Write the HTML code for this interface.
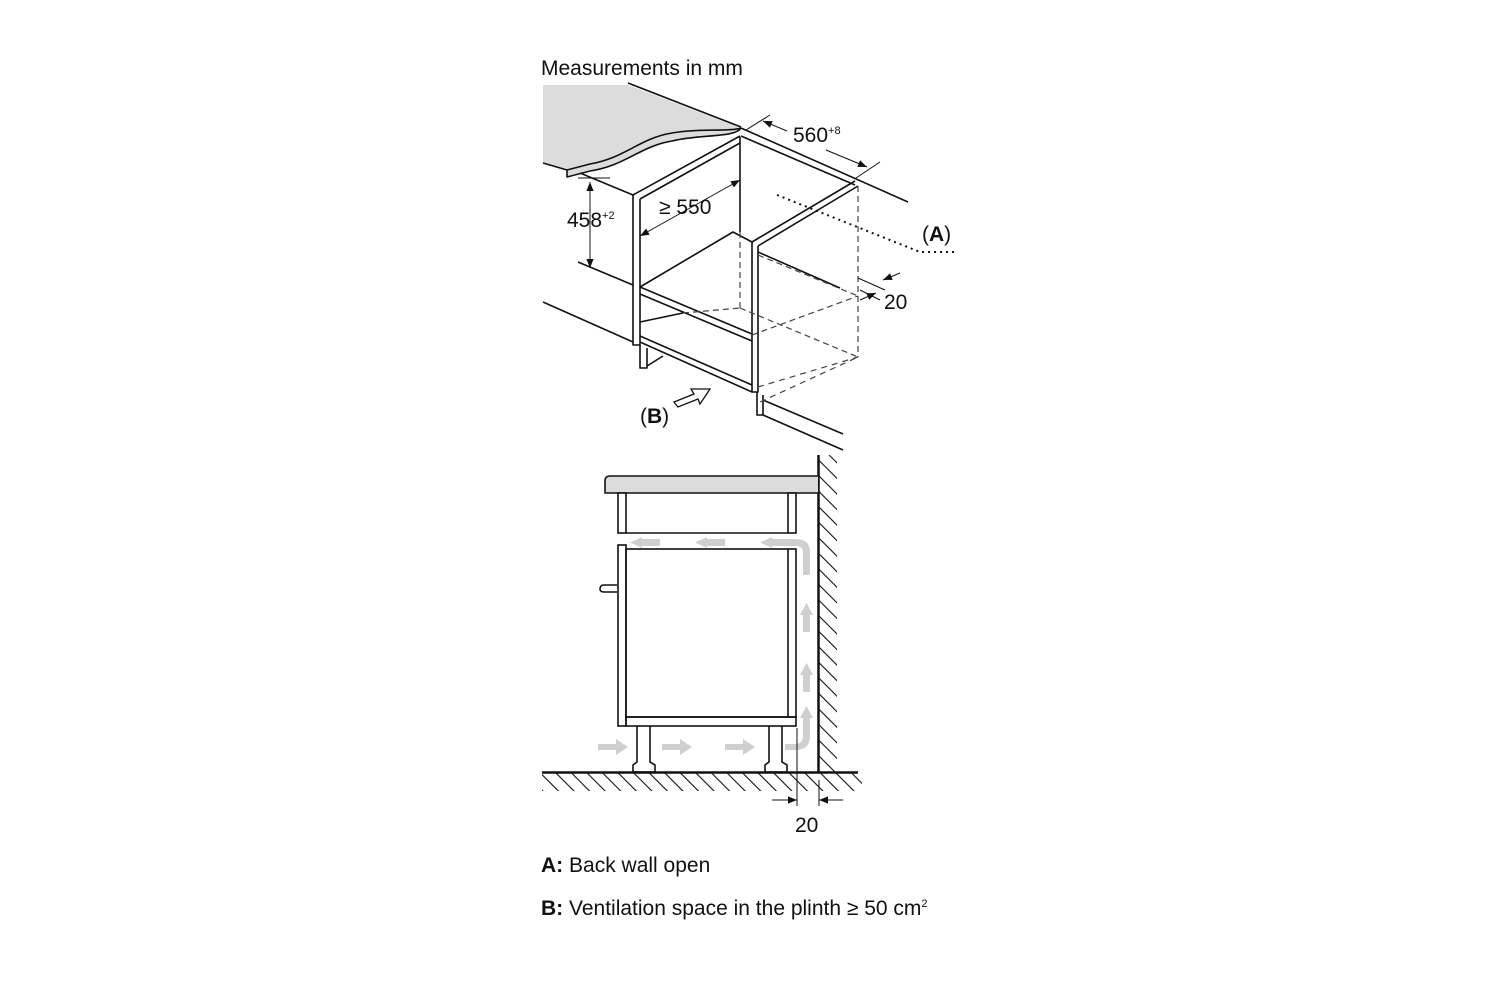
<!DOCTYPE html>
<html><head><meta charset="utf-8"><style>
html,body{margin:0;padding:0;background:#fff;width:1500px;height:1000px;overflow:hidden}
svg{display:block}
text{font-family:"Liberation Sans",Arial,sans-serif;fill:#111}
</style></head><body>
<svg width="1500" height="1000" viewBox="0 0 1500 1000" xmlns="http://www.w3.org/2000/svg">
<defs>
<marker id="ar" viewBox="0 0 10 10" refX="10" refY="5" markerWidth="11" markerHeight="9" orient="auto-start-reverse" markerUnits="userSpaceOnUse"><path d="M0,1 L10,5 L0,9 z" fill="#111"/></marker>
<pattern id="hw" width="11" height="11" patternUnits="userSpaceOnUse" patternTransform="rotate(-45)"><line x1="0" y1="0" x2="0" y2="11" stroke="#111" stroke-width="2.2"/></pattern>
</defs>
<text x="541" y="75" font-size="21">Measurements in mm</text>

<g fill="none" stroke="#111" stroke-width="1.6" stroke-linejoin="round">
<path d="M543,85 L628,85 L741,128 C735,136 700,134 670,142 C640,150 620,168 590,170 L567,176 L567,170 L543,163 Z" fill="#dcdcdc" stroke="none"/>
<path d="M543,163 L567,170 L567,177 L590,171 C625,166 640,146 672,141 C700,134 735,138 741,128"/>
<path d="M567,170 L590,164 C625,158 640,138 672,133 C700,128 730,132 741,128"/>
<path d="M628,83 L741,127"/>
<path d="M741,128 L908,202"/>
<path d="M741,136 L855,185"/>
<path d="M580,173 L633,195"/>
<path d="M633,195 L740,136 M640,199 L740,143"/>
<path d="M633,195 L633,345 L640,345 L640,199"/>
<path d="M740,137 L740,232"/>
<path d="M640,287 L733,232 L752,242"/>
<path d="M640,287 L752,334 M640,294 L752,341"/>
<path d="M752,242 L855,181 M758,246 L858,186"/>
<path d="M752,242 L752,392 L758,392 L758,246"/>
<path d="M758,252 L840,288"/>
<path d="M640,322 L683,313"/>
<path d="M640,336 L752,385 M640,342 L752,392"/>
<path d="M640,345 L640,368 L647,368 L647,348"/>
<path d="M647,366 L663,356"/>
<path d="M757,392 L757,415 L763,415 L763,395"/>
<path d="M543,302 L633,342"/>
<path d="M763,400 L843,434 M763,415 L843,450"/>
<path d="M578,262 L633,285"/>
</g>
<g fill="none" stroke="#444" stroke-width="1.2" stroke-dasharray="6,4">
<path d="M740,232 L740,308"/>
<path d="M858,186 L858,357"/>
<path d="M740,308 L858,357"/>
<path d="M683,313 L740,308"/>
<path d="M758,387 L858,357 M760,402 L858,357" stroke-dasharray="6,5"/>
<path d="M758,255 L858,296 M752,335 L858,296"/>
</g>
<path d="M777,195 L920,252 L958,252" fill="none" stroke="#111" stroke-width="2" stroke-dasharray="2,4"/>
<text x="922" y="241" font-size="21">(<tspan font-weight="bold">A</tspan>)</text>
<g stroke="#111" stroke-width="1" fill="none">
<path d="M578,178 L610,178"/>
<path d="M590,182 L590,268" marker-start="url(#ar)" marker-end="url(#ar)"/>
<path d="M640,236 L740,180" marker-start="url(#ar)" marker-end="url(#ar)"/>
<path d="M746,130 L770,115 M856,178 L880,162"/>
<path d="M763,121 L787,131" marker-start="url(#ar)"/>
<path d="M826,150 L867,167" marker-end="url(#ar)"/>
<path d="M858,278 L885,290 M860,290 L880,300"/>
<path d="M900,273 L883,280" marker-end="url(#ar)"/>
<path d="M860,300 L876,293" marker-end="url(#ar)"/>
</g>
<text x="567" y="227" font-size="21">458<tspan font-size="11" dy="-8">+2</tspan></text>
<text x="659" y="214" font-size="21">≥ 550</text>
<text x="793" y="142" font-size="21">560<tspan font-size="11" dy="-8">+8</tspan></text>
<text x="884" y="309" font-size="21">20</text>
<path d="M674,402 L694,394 L691,389 L710,389 L700,404 L698,399 L678,407 Z" fill="#fff" stroke="#111" stroke-width="1.3"/>
<text x="640" y="423" font-size="21">(<tspan font-weight="bold">B</tspan>)</text>

<rect x="819" y="455" width="18" height="317" fill="url(#hw)"/>
<rect x="542" y="773" width="320" height="18" fill="url(#hw)"/>
<line x1="818.5" y1="455" x2="818.5" y2="773" stroke="#111" stroke-width="2.5"/>
<line x1="542" y1="772.5" x2="858" y2="772.5" stroke="#111" stroke-width="2.5"/>
<g fill="none" stroke="#111" stroke-width="1.6">
<path d="M818,476 L610,476 Q605,476 605,481 L605,493 L818,493" fill="#dcdcdc"/>
<rect x="618" y="493" width="8" height="40" fill="#fff"/>
<rect x="788" y="493" width="8" height="40" fill="#fff"/>
<path d="M626,533 L788,533"/>
<rect x="618" y="545" width="8" height="181" fill="#fff"/>
<rect x="626" y="549" width="170" height="168"/>
<rect x="626" y="717" width="170" height="9"/>
<path d="M788,549 L788,717"/>
<path d="M617,585 L604,585 Q600,585 600,589 Q600,592 604,592 L617,592"/>
<path d="M637,726 L637,762 L633,765 L633,772 L655,772 L655,765 L650,762 L650,726"/>
<path d="M769,726 L769,762 L765,765 L765,772 L787,772 L787,765 L782,762 L782,726"/>
</g>
<g fill="#cfcfcf">
<path d="M598,744 L616,744 L616,739 L628,747 L616,755 L616,750 L598,750Z"/>
<path d="M662,744 L680,744 L680,739 L692,747 L680,755 L680,750 L662,750Z"/>
<path d="M725,744 L743,744 L743,739 L755,747 L743,755 L743,750 L725,750Z"/>
<path d="M642,539 L660,539 L660,546 L642,546 L642,548 L630,542.5 L642,537Z"/>
<path d="M707,539 L725,539 L725,546 L707,546 L707,548 L695,542.5 L707,537Z"/>
<path d="M772,539 L795,539 Q810,539 810,552 L810,575 L803,575 L803,552 Q803,546 795,546 L772,546 L772,548 L760,542.5 L772,537Z"/>
<path d="M803,615 L803,632 L810,632 L810,615 L813,615 L806.5,603 L800,615Z"/>
<path d="M803,675 L803,692 L810,692 L810,675 L813,675 L806.5,663 L800,675Z"/>
<path d="M785,744 L795,744 Q803,744 803,736 L803,718 L800,718 L806.5,706 L813,718 L810,718 L810,736 Q810,750 795,750 L785,750Z"/>
</g>
<g stroke="#111" stroke-width="1" fill="none">
<line x1="797" y1="728" x2="797" y2="806"/>
<line x1="819" y1="780" x2="819" y2="806"/>
<path d="M772,800 L797,800" marker-end="url(#ar)"/>
<path d="M843,800 L819,800" marker-end="url(#ar)"/>
</g>
<text x="795" y="832" font-size="21">20</text>

<text x="541" y="872" font-size="21"><tspan font-weight="bold">A:</tspan> Back wall open</text>
<text x="541" y="915" font-size="21"><tspan font-weight="bold">B:</tspan> Ventilation space in the plinth ≥ 50 cm<tspan font-size="11" dy="-8">2</tspan></text>
</svg>
</body></html>
